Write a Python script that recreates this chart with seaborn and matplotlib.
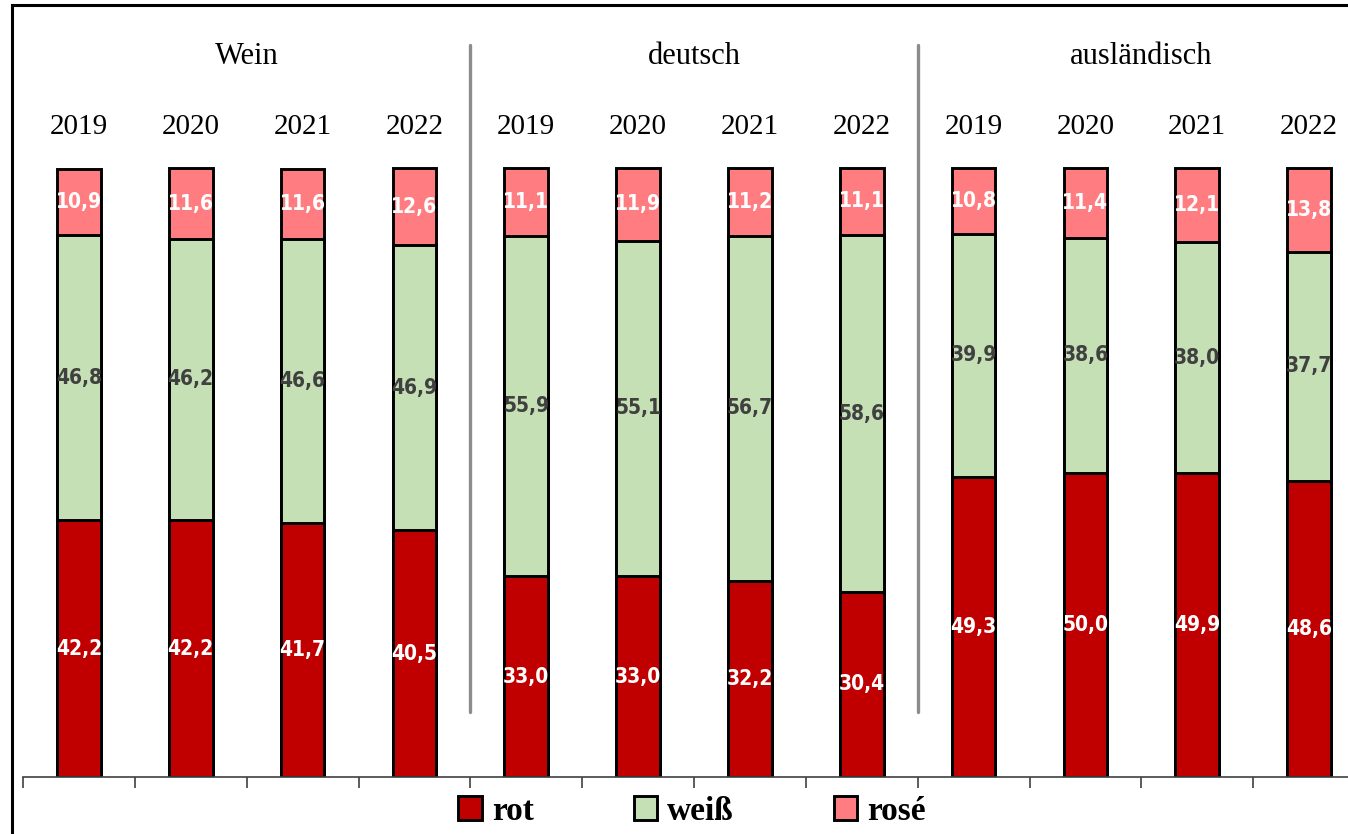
import matplotlib
matplotlib.use('Agg')
import matplotlib.pyplot as plt
import seaborn as sns
import pandas as pd
from matplotlib.patches import Patch
from matplotlib.lines import Line2D

# data
groups = ['Wein', 'deutsch', 'ausländisch']
years = ['2019', '2020', '2021', '2022']
rot = [42.2, 42.2, 41.7, 40.5, 33.0, 33.0, 32.2, 30.4, 49.3, 50.0, 49.9, 48.6]
weiss = [46.8, 46.2, 46.6, 46.9, 55.9, 55.1, 56.7, 58.6, 39.9, 38.6, 38.0, 37.7]
rose = [10.9, 11.6, 11.6, 12.6, 11.1, 11.9, 11.2, 11.1, 10.8, 11.4, 12.1, 13.8]

c_rot, c_weiss, c_rose = '#C00000', '#C5E0B4', '#FF7C80'

df = pd.DataFrame({'bar': [f'{g} {y}' for g in groups for y in years],
                   'rot': rot, 'weiss': weiss, 'rose': rose})
df['rot_weiss'] = df['rot'] + df['weiss']
df['total'] = df['rot_weiss'] + df['rose']

sns.set_style('white')
plt.rcParams['text.color'] = 'black'

fig = plt.figure(figsize=(13.48, 8.34), dpi=100)
ax = fig.add_axes([23/1348, 57/834, 1342/1348, 761/834])

# stacked bars drawn as overlapping cumulative bars
for col, color in [('total', c_rose), ('rot_weiss', c_weiss), ('rot', c_rot)]:
    sns.barplot(data=df, x='bar', y=col, color=color, saturation=1, width=0.39,
                edgecolor='black', linewidth=2.1, errorbar=None, ax=ax)

ax.set_xlim(-0.5, 11.5)
ax.set_ylim(0, 125)

# value labels
lab_font = dict(family=['DejaVu Sans'], fontstretch='condensed', fontweight='bold',
                fontsize=15, ha='center', va='center')
for i, r in df.iterrows():
    ax.text(i, r['rot'] / 2, f"{r['rot']:.1f}".replace('.', ','), color='white', **lab_font)
    ax.text(i, r['rot'] + r['weiss'] / 2, f"{r['weiss']:.1f}".replace('.', ','), color='#404040', **lab_font)
    ax.text(i, r['rot_weiss'] + r['rose'] / 2, f"{r['rose']:.1f}".replace('.', ','), color='white', **lab_font)

# year and group headers
serif = ['Liberation Serif', 'DejaVu Serif']
for i, b in enumerate(df['bar']):
    ax.text(i, 106.8, years[i % 4], ha='center', va='center', fontsize=21, family=serif)
for g, name in enumerate(groups):
    ax.text(g * 4 + 1.5, 118.4, name, ha='center', va='center', fontsize=22, family=serif)
for sep in [3.5, 7.5]:
    ax.add_line(Line2D([sep, sep], [10.7, 120.2], color='#8C8C8C', lw=2.4, clip_on=False))

# axes styling
sns.despine(ax=ax, left=True, top=True, right=True)
ax.spines['bottom'].set_color('#404040')
ax.spines['bottom'].set_linewidth(1.2)
ax.set_yticks([])
ax.set_xticks([])
ax.set_xticks([x - 0.5 for x in range(13)], minor=True)
ax.tick_params(axis='x', which='minor', length=8, width=1.2, color='#404040', bottom=True)
ax.set_xlabel('')
ax.set_ylabel('')

# legend
handles = [Patch(facecolor=c, edgecolor='black', linewidth=2.1) for c in (c_rot, c_weiss, c_rose)]
fig.legend(handles, ['rot', 'weiß', 'rosé'], loc='center', bbox_to_anchor=(692/1348, 23/834),
           ncol=3, frameon=False, handlelength=0.7, handleheight=0.7, handletextpad=0.3,
           columnspacing=3.0, prop=dict(family=serif, weight='bold', size=24))

# figure frame (cropped at right and bottom)
fig.add_artist(plt.Rectangle((12/1348, -0.1), 1.2, 1 - 5/834 + 0.1, transform=fig.transFigure,
                             fill=False, edgecolor='black', linewidth=2.2))

fig.savefig('out.png', dpi=100)
